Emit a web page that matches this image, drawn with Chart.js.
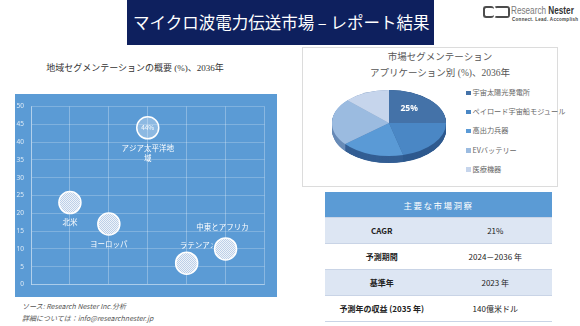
<!DOCTYPE html>
<html lang="ja">
<head>
<meta charset="utf-8">
<script src="https://cdn.jsdelivr.net/npm/chart.js@4.4.1/dist/chart.umd.min.js"></script>
<style>
  html, body { margin: 0; padding: 0; background: #fff; }
  body { width: 580px; height: 326px; position: relative; overflow: hidden;
         font-family: "Noto Sans CJK JP", "Noto Sans", sans-serif; }
  .abs { position: absolute; }
  #banner { left: 127px; top: 0; width: 307px; height: 45px; background: #0e205e; color: #fff;
            font-size: 16.5px; line-height: 44px; padding-left: 6px; box-sizing: border-box; white-space: nowrap; }
  #logo-icon1, #logo-icon2 { border: 2.5px solid #4d4d4d; border-radius: 3px; width: 9px; height: 8px; }
  #logo-icon1 { left: 483px; top: 6px; border-right: none; }
  #logo-icon2 { left: 494px; top: 6px; width: 12px; border-left-color: transparent; }
  #logo-text { left: 511px; top: 4px; font-family: "Liberation Sans", sans-serif; font-size: 10.5px;
               color: #7a7a7a; white-space: nowrap; transform: scaleX(0.78); transform-origin: 0 0; }
  #logo-text b { color: #333; }
  #logo-sub { left: 512px; top: 17px; font-family: "Liberation Sans", sans-serif; font-size: 4.5px;
              font-weight: bold; color: #444; letter-spacing: 0.3px; white-space: nowrap; }
  #left-title { left: 10px; top: 61px; width: 250px; text-align: center; font-size: 9px; color: #333;
                font-family: "Liberation Serif", "Noto Sans CJK JP", serif; }
  #bubble { left: 15px; top: 94px; background: #5b9bd5; }
  #pie-panel { left: 302px; top: 47px; width: 256px; height: 140px; border: 1px solid #dcdcdc; box-sizing: border-box; }
  #pie-title { left: 302px; top: 49px; width: 276px; text-align: center; font-size: 9.5px; color: #555;
               line-height: 16px; font-family: "Liberation Serif", "Noto Sans CJK JP", serif; }
  #pie { left: 320px; top: 76px; }
  #pie-legend { left: 466px; top: 86px; font-size: 7.2px; color: #666; }
  #pie-legend div { height: 19.2px; line-height: 12px; white-space: nowrap; }
  #pie-legend span { display: inline-block; width: 4.5px; height: 4.5px; margin-right: 2px; vertical-align: 0px; }
  #table { left: 325px; top: 192px; width: 227px; border-collapse: collapse; font-size: 8px; color: #222; }
  #table td, #table th { text-align: center; padding: 0; border-bottom: 1px solid #c9d4e6; }
  #table th { background: #5b9bd5; color: #fff; font-weight: normal; font-size: 8.5px; letter-spacing: 1.5px; height: 25px; }
  #table tr.odd td { background: #dde6f3; }
  #table td { height: 25px; }
  #table td:first-child { font-weight: bold; width: 50%; }
  #footer { left: 22px; top: 300px; font-size: 7px; line-height: 12px; color: #555; font-style: italic; }
</style>
</head>
<body>
<div id="banner" class="abs">マイクロ波電力伝送市場 – レポート結果</div>
<div id="logo-icon1" class="abs"></div>
<div id="logo-icon2" class="abs"></div>
<div id="logo-text" class="abs">Research <b>Nester</b></div>
<div id="logo-sub" class="abs">Connect. Lead. Accomplish</div>

<div id="left-title" class="abs">地域セグメンテーションの概要 (%)、2036年</div>
<canvas id="bubble" class="abs" width="262" height="203"></canvas>

<div id="pie-panel" class="abs"></div>
<div id="pie-title" class="abs">市場セグメンテーション<br>アプリケーション別 (%)、2036年</div>
<canvas id="pie" class="abs" width="138" height="100"></canvas>
<div id="pie-legend" class="abs"></div>

<table id="table" class="abs"></table>

<div id="footer" class="abs">ソース: Research Nester Inc.分析<br>詳細については：info@researchnester.jp</div>

<script>
/* data */
const regions = ['北米', 'ヨーロッパ', 'アジア太平洋地域', 'ラテンアメリカ', '中東とアフリカ'];
const regionX = [1, 2, 3, 4, 5];
const regionShare = [23, 17, 44, 6, 10];
const yTicks = [0, 5, 10, 15, 20, 25, 30, 35, 40, 45, 50];

const applications = ['宇宙太陽光発電所', 'ペイロード宇宙船モジュール', '高出力兵器', 'EVバッテリー', '医療機器'];
const appShare = [25, 21, 18, 23, 13];

const insightRows = [
  ['CAGR', '21%'],
  ['予測期間', '2024－2036 年'],
  ['基準年', '2023 年'],
  ['予測年の収益 (2035 年)', '140億米ドル']
];

/* table */
document.getElementById('table').innerHTML =
  '<tr><th colspan="2">主要な市場洞察</th></tr>' +
  insightRows.map((r, i) => `<tr class="${i % 2 ? '' : 'odd'}"><td>${r[0]}</td><td>${r[1]}</td></tr>`).join('');

/* bubble chart */
function stipple(){
  const c = document.createElement('canvas');
  c.width = c.height = 2;
  const g = c.getContext('2d');
  g.fillStyle = '#bccfe8'; g.fillRect(0, 0, 2, 2);
  g.fillStyle = '#eef3f9'; g.fillRect(0, 0, 1, 1); g.fillRect(1, 1, 1, 1);
  return g.createPattern(c, 'repeat');
}
const dots = stipple();
const topIdx = regionShare.indexOf(Math.max(...regionShare));

const labelFont = '7.5px "Noto Sans CJK JP", sans-serif';
const bubbleLabels = {
  id: 'bubbleLabels',
  beforeDatasetsDraw(chart){
    const ctx = chart.ctx;
    const pts = chart.getDatasetMeta(0).data;
    ctx.save();
    ctx.fillStyle = '#fff';
    ctx.font = labelFont;
    ctx.textBaseline = 'middle';
    pts.forEach((p, i) => {
      const name = regions[i];
      if (i === 2){               // long name wraps in two lines
        ctx.textAlign = 'center';
        ctx.fillText(name.slice(0, 7), p.x, p.y + 20);
        ctx.fillText(name.slice(7), p.x, p.y + 30);
      } else if (i === 3){        // cut off by the box like the source
        ctx.save();
        ctx.beginPath(); ctx.rect(p.x - 10, p.y - 30, 36, 20); ctx.clip();
        ctx.textAlign = 'left';
        ctx.fillText(name, p.x - 7, p.y - 18);
        ctx.restore();
      } else if (i === 4){
        ctx.textAlign = 'center';
        ctx.fillText(name, p.x - 3, p.y - 22);
      } else {
        ctx.textAlign = 'center';
        ctx.fillText(name, p.x, p.y + 20);
      }
    });
    ctx.restore();
  },
  afterDatasetsDraw(chart){
    const ctx = chart.ctx;
    const pts = chart.getDatasetMeta(0).data;
    ctx.save();
    ctx.fillStyle = 'rgba(255,255,255,0.9)';
    ctx.font = '6.5px "Noto Sans CJK JP", sans-serif';
    ctx.textAlign = 'center';
    ctx.textBaseline = 'middle';
    ctx.fillText(regionShare[topIdx] + '%', pts[topIdx].x, pts[topIdx].y);
    ctx.restore();
  }
};

new Chart(document.getElementById('bubble'), {
  type: 'bubble',
  data: {
    labels: regions,
    datasets: [{
      data: regions.map((r, i) => ({ x: regionX[i], y: regionShare[i] })),
      radius: 11,
      backgroundColor: regions.map((r, i) => i === topIdx ? 'rgba(255,255,255,0.3)' : dots),
      borderColor: '#ffffff',
      borderWidth: 1.5,
      clip: false
    }]
  },
  options: {
    responsive: false,
    animation: false,
    layout: { padding: { top: 8, right: 0, left: 0, bottom: 0 } },
    plugins: { legend: { display: false }, tooltip: { enabled: false } },
    scales: {
      x: {
        min: 0, max: 6,
        ticks: { display: false, stepSize: 1 },
        grid: { color: 'rgba(255,255,255,0.28)', drawTicks: false },
        border: { color: 'rgba(255,255,255,0.35)' },
        afterFit: s => { s.height = 10; }
      },
      y: {
        min: yTicks[0], max: yTicks[yTicks.length - 1],
        afterBuildTicks: s => { s.ticks = yTicks.map(v => ({ value: v })); },
        ticks: { color: 'rgba(255,255,255,0.8)', font: { size: 6.5, family: '"Noto Sans", sans-serif' }, padding: 7 },
        grid: { color: 'rgba(255,255,255,0.22)', drawTicks: false },
        border: { color: 'rgba(255,255,255,0.35)' },
        afterFit: s => { s.width = 16; }
      }
    }
  },
  plugins: [bubbleLabels]
});

/* pie chart, tilted with a rim */
const pieColors = ['#4472a8', '#4a87c5', '#5a9ad6', '#9bbbe0', '#c6d5ec'];
const rimColors = ['#2d5382', '#2f5a8f', '#345f94', '#6a8cb8', '#8fa7c9'];
const tilt = 0.58, rim = 7;

const pie3d = {
  id: 'pie3d',
  beforeDatasetsDraw(chart){
    const ctx = chart.ctx;
    const arcs = chart.getDatasetMeta(0).data;
    const cx = arcs[0].x, cy = arcs[0].y;
    ctx.save();
    ctx.translate(cx, cy); ctx.scale(1, tilt); ctx.translate(-cx, -cy);
    for (let d = rim / tilt; d > 0; d -= 0.5){
      arcs.forEach((a, i) => {
        ctx.beginPath();
        ctx.moveTo(a.x, a.y + d);
        ctx.arc(a.x, a.y + d, a.outerRadius, a.startAngle, a.endAngle);
        ctx.closePath();
        ctx.fillStyle = rimColors[i];
        ctx.fill();
      });
    }
  },
  afterDatasetsDraw(chart){
    const ctx = chart.ctx;
    ctx.restore();
    const a = chart.getDatasetMeta(0).data[0];
    const pos = a.tooltipPosition();
    ctx.save();
    ctx.fillStyle = '#fff';
    ctx.font = 'bold 8.5px "Noto Sans", sans-serif';
    ctx.textAlign = 'center';
    ctx.textBaseline = 'middle';
    ctx.fillText(appShare[0] + '%', pos.x, a.y + (pos.y - a.y) * tilt - 3);
    ctx.restore();
  }
};

const pieChart = new Chart(document.getElementById('pie'), {
  type: 'pie',
  data: {
    labels: applications,
    datasets: [{ data: appShare, backgroundColor: pieColors, borderWidth: 0, radius: 57, clip: false }]
  },
  options: {
    responsive: false,
    animation: false,
    layout: { padding: { bottom: 6 } },
    plugins: { legend: { display: false }, tooltip: { enabled: false } }
  },
  plugins: [pie3d]
});

/* html legend from the chart's own labels */
const items = pieChart.options.plugins.legend.labels.generateLabels(pieChart);
document.getElementById('pie-legend').innerHTML =
  items.map(it => `<div><span style="background:${it.fillStyle}"></span>${it.text}</div>`).join('');
</script>
</body>
</html>
